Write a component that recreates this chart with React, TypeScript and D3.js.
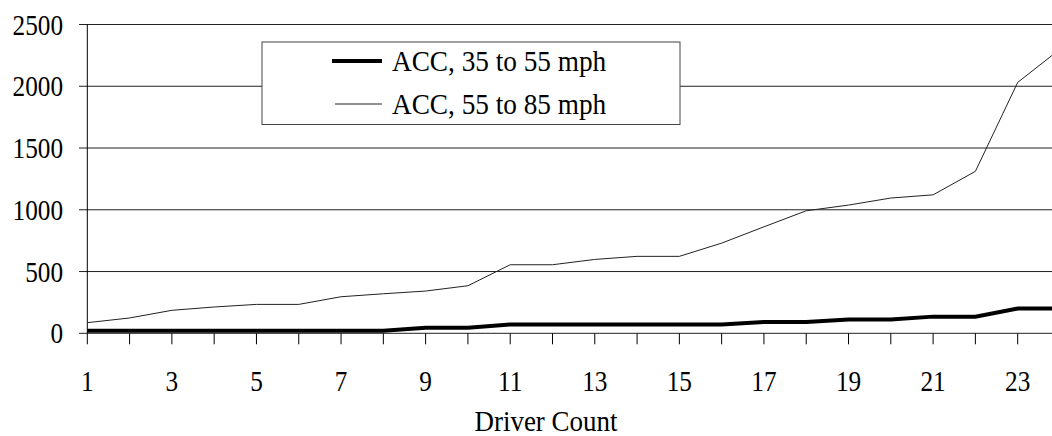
import React from "react";
import * as d3 from "d3";

const categories: number[] = Array.from({ length: 24 }, (_, i) => i + 1);
const acc35to55: number[] = [20, 20, 20, 20, 20, 20, 20, 20, 45, 45, 72, 72, 72, 72, 72, 72, 92, 92, 112, 112, 135, 135, 200, 200];
const acc55to85: number[] = [86, 124, 186, 213, 234, 234, 296, 320, 342, 385, 555, 555, 598, 623, 623, 730, 862, 992, 1038, 1095, 1121, 1311, 2031, 2300];
const yTicks: number[] = [0, 500, 1000, 1500, 2000, 2500];
const xTickLabels: number[] = [1, 3, 5, 7, 9, 11, 13, 15, 17, 19, 21, 23];
const seriesNames: string[] = ["ACC, 35 to 55 mph", "ACC, 55 to 85 mph"];
const xTitle = "Driver Count";

const W = 1052;
const H = 436;
const FONT = "'Liberation Serif', 'Times New Roman', serif";
const FS = 29;
const SX = 0.87;

function T({ x, y, anchor, children, fs = FS, sx = SX }: any) {
  return (
    <g transform={`translate(${x},${y}) scale(${sx},1)`}>
      <text x={0} y={0} textAnchor={anchor} fontFamily={FONT} fontSize={fs} fill="#000">
        {children}
      </text>
    </g>
  );
}

export default function App() {
  const x = d3.scaleLinear().domain([1, 24]).range([87.3, 87.3 + 23 * 42.29]);
  const y = d3.scaleLinear().domain([0, 2500]).range([333.3, 24.5]);
  const line = d3
    .line<number>()
    .x((_, i) => x(categories[i]))
    .y((d) => y(d));

  const legend = { x0: 262, y0: 42, x1: 680, y1: 124.5 };

  return (
    <svg
      width={W}
      height={H}
      style={{ position: "absolute", left: 0, top: 0, background: "#fff" }}
    >
      <rect x={0} y={0} width={W} height={H} fill="#fff" />
      {yTicks.map((t) => (
        <line key={t} x1={79} x2={W} y1={y(t)} y2={y(t)} stroke="#222" strokeWidth={1} />
      ))}
      <line x1={87.3} x2={87.3} y1={y(2500)} y2={y(0)} stroke="#000" strokeWidth={1} />
      {categories.map((c) => (
        <line key={c} x1={x(c)} x2={x(c)} y1={y(0)} y2={y(0) + 11} stroke="#000" strokeWidth={1} />
      ))}
      {yTicks.map((t) => (
        <T key={t} x={63} y={y(t) + 10} anchor="end">
          {t}
        </T>
      ))}
      {xTickLabels.map((c) => (
        <T key={c} x={x(c)} y={391} anchor="middle">
          {c}
        </T>
      ))}
      <T x={546} y={431} anchor="middle" sx={0.93}>
        {xTitle}
      </T>
      <path d={line(acc55to85) || ""} fill="none" stroke="#222" strokeWidth={1} />
      <path d={line(acc35to55) || ""} fill="none" stroke="#000" strokeWidth={4} />
      <rect
        x={legend.x0}
        y={legend.y0}
        width={legend.x1 - legend.x0}
        height={legend.y1 - legend.y0}
        fill="#fff"
        stroke="#444"
        strokeWidth={1}
      />
      <line x1={332} x2={382} y1={61} y2={61} stroke="#000" strokeWidth={4} />
      <line x1={335} x2={382} y1={104} y2={104} stroke="#222" strokeWidth={1} />
      <T x={392} y={71} anchor="start" sx={0.94}>
        {seriesNames[0]}
      </T>
      <T x={392} y={114} anchor="start" sx={0.94}>
        {seriesNames[1]}
      </T>
    </svg>
  );
}
